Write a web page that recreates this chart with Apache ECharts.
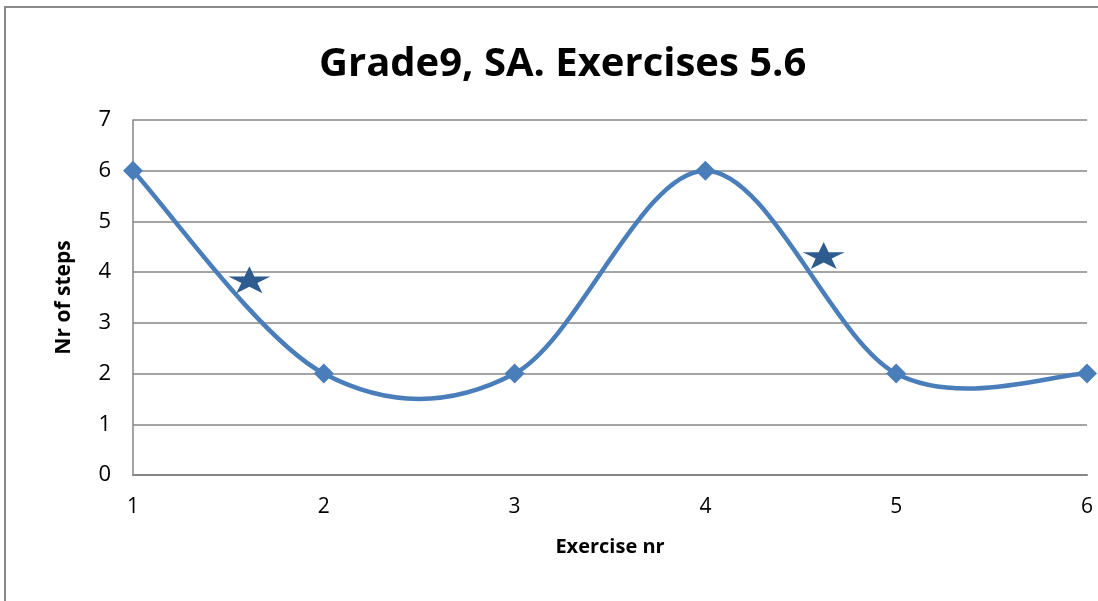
<!DOCTYPE html>
<html>
<head>
<meta charset="utf-8">
<script src="https://cdn.jsdelivr.net/npm/echarts@6/dist/echarts.min.js"></script>
<style>
  html, body { margin: 0; padding: 0; background: #fff; }
  #chart { width: 1098px; height: 601px; }
</style>
</head>
<body>
<div id="chart"></div>
<script>
// data
const exerciseNr = [1, 2, 3, 4, 5, 6];
const steps = [6, 2, 2, 6, 2, 2];
const starX = [1.61, 4.62];
const starY = [3.85, 4.33];

const lineColor = '#4A7EBB';
const starColor = '#2F5C8F';
const gridColor = '#868686';
const font = 'Open Sans';

const starPath = 'path://M50,0 L61.8,35.3 L100,35.3 L69.1,57.1 L80.9,92.7 L50,70.8 L19.1,92.7 L30.9,57.1 L0,35.3 L38.2,35.3 Z';

// spreadsheet-style spline: segment i -> i+1 as a cubic bezier (tension 1/6)
function pt(i) {
    i = Math.max(0, Math.min(exerciseNr.length - 1, i));
    return [exerciseNr[i], steps[i]];
}
function renderSegment(params, api) {
    var i = params.dataIndex;
    if (i >= exerciseNr.length - 1) return;
    var p0 = pt(i - 1), p1 = pt(i), p2 = pt(i + 1), p3 = pt(i + 2);
    var c1 = [p1[0] + (p2[0] - p0[0]) / 6, p1[1] + (p2[1] - p0[1]) / 6];
    var c2 = [p2[0] - (p3[0] - p1[0]) / 6, p2[1] - (p3[1] - p1[1]) / 6];
    var a = api.coord(p1), b = api.coord(p2), ca = api.coord(c1), cb = api.coord(c2);
    return {
        type: 'bezierCurve',
        shape: { x1: a[0], y1: a[1], x2: b[0], y2: b[1], cpx1: ca[0], cpy1: ca[1], cpx2: cb[0], cpy2: cb[1] },
        style: { stroke: lineColor, lineWidth: 4.5, fill: null, lineCap: 'round' },
        silent: true
    };
}

var chart = echarts.init(document.getElementById('chart'));
chart.setOption({
    animation: false,
    backgroundColor: '#fff',
    graphic: [{
        type: 'rect',
        shape: { x: 5, y: 7, width: 1200, height: 700 },
        style: { fill: 'none', stroke: '#8a8a8a', lineWidth: 2 },
        silent: true
    }],
    title: {
        text: 'Grade9, SA. Exercises 5.6',
        left: 314,
        top: 40,
        textStyle: { fontFamily: font, fontWeight: 'bold', fontSize: 40, color: '#000' }
    },
    grid: { left: 133, right: 11, top: 120, bottom: 126 },
    xAxis: {
        type: 'value',
        min: 1, max: 6, interval: 1,
        name: 'Exercise nr',
        nameLocation: 'middle',
        nameGap: 62,
        nameTextStyle: { fontFamily: font, fontWeight: 'bold', fontSize: 20, color: '#000' },
        axisLine: { show: true, lineStyle: { color: gridColor, width: 2 } },
        axisTick: { show: false },
        axisLabel: { fontFamily: font, fontSize: 21, color: '#000', margin: 22 },
        splitLine: { show: false }
    },
    yAxis: {
        type: 'value',
        min: 0, max: 7, interval: 1,
        name: 'Nr of steps',
        nameLocation: 'middle',
        nameGap: 58,
        nameTextStyle: { fontFamily: font, fontWeight: 'bold', fontSize: 21, color: '#000' },
        axisLine: { show: true, lineStyle: { color: gridColor, width: 1.5 } },
        axisTick: { show: false },
        axisLabel: { fontFamily: font, fontSize: 22, color: '#000', margin: 22 },
        splitLine: { lineStyle: { color: gridColor, width: 1.5 } }
    },
    series: [{
        type: 'custom',
        renderItem: renderSegment,
        data: exerciseNr.map((x, i) => [x, steps[i]]),
        z: 2
    }, {
        type: 'line',
        data: exerciseNr.map((x, i) => [x, steps[i]]),
        symbol: 'diamond',
        symbolSize: 20,
        lineStyle: { opacity: 0 },
        itemStyle: { color: lineColor },
        z: 3
    }, {
        type: 'scatter',
        data: starX.map((x, i) => [x, starY[i]]),
        symbol: starPath,
        symbolSize: [42, 27],
        itemStyle: { color: starColor, opacity: 1 },
        z: 4
    }]
});
</script>
</body>
</html>
